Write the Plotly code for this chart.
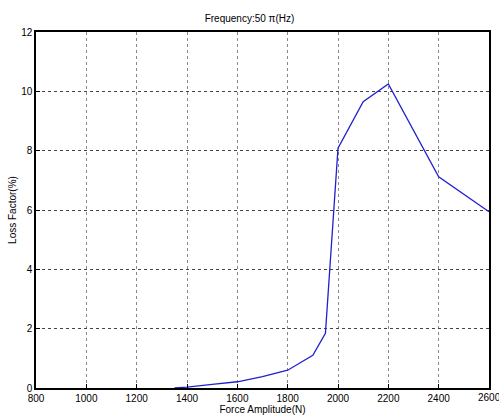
import plotly.graph_objects as go

force_n = [1350, 1400, 1500, 1600, 1700, 1800, 1900, 1950, 2000, 2100, 2200, 2400, 2600]
loss_factor = [0.0, 0.03, 0.12, 0.21, 0.38, 0.6, 1.1, 1.84, 8.08, 9.65, 10.25, 7.12, 5.94]

x_ticks = list(range(800, 2601, 200))
y_ticks = list(range(0, 13, 2))

fig = go.Figure()
fig.add_trace(go.Scatter(
    x=force_n, y=loss_factor,
    mode="lines",
    line=dict(color="#2020d0", width=1.3),
    showlegend=False,
))

axis_style = dict(
    showline=True, linecolor="black", linewidth=1.5, mirror=True,
    ticks="inside", ticklen=4, tickcolor="black",
    showgrid=True, griddash="dot", gridwidth=1,
    zeroline=False, automargin=False,
    tickfont=dict(size=10, color="black"),
)

fig.update_layout(
    width=499, height=416,
    margin=dict(l=36, r=10, t=32, b=28),
    paper_bgcolor="white", plot_bgcolor="white",
    font=dict(family="Liberation Sans, Arial, sans-serif", size=10, color="black"),
    title=dict(text="Frequency:50 π(Hz)", x=0.5, xanchor="center", y=0.955, yanchor="middle",
               font=dict(size=10), automargin=False),
    xaxis=dict(range=[800, 2600], tickvals=x_ticks, gridcolor="#888",
               title=dict(text="Force Amplitude(N)", standoff=0, font=dict(size=10)),
               **axis_style),
    yaxis=dict(range=[0, 12], tickvals=y_ticks, gridcolor="#444",
               title=dict(text="Loss Factor(%)", standoff=3, font=dict(size=10)),
               **axis_style),
)

# plotly drops the last tick label because it runs past the page edge; the
# reference shows it clipped, so put it back as an annotation
fig.add_annotation(
    x=x_ticks[-1], y=0, xref="x", yref="paper",
    text=str(x_ticks[-1]), showarrow=False,
    yanchor="top", yshift=-2, font=dict(size=10, color="black"),
)

# page body margin would push the fixed-size figure out of the window
fig.write_html("out.html", config={"displayModeBar": False},
               post_script="document.body.style.margin='0';")
